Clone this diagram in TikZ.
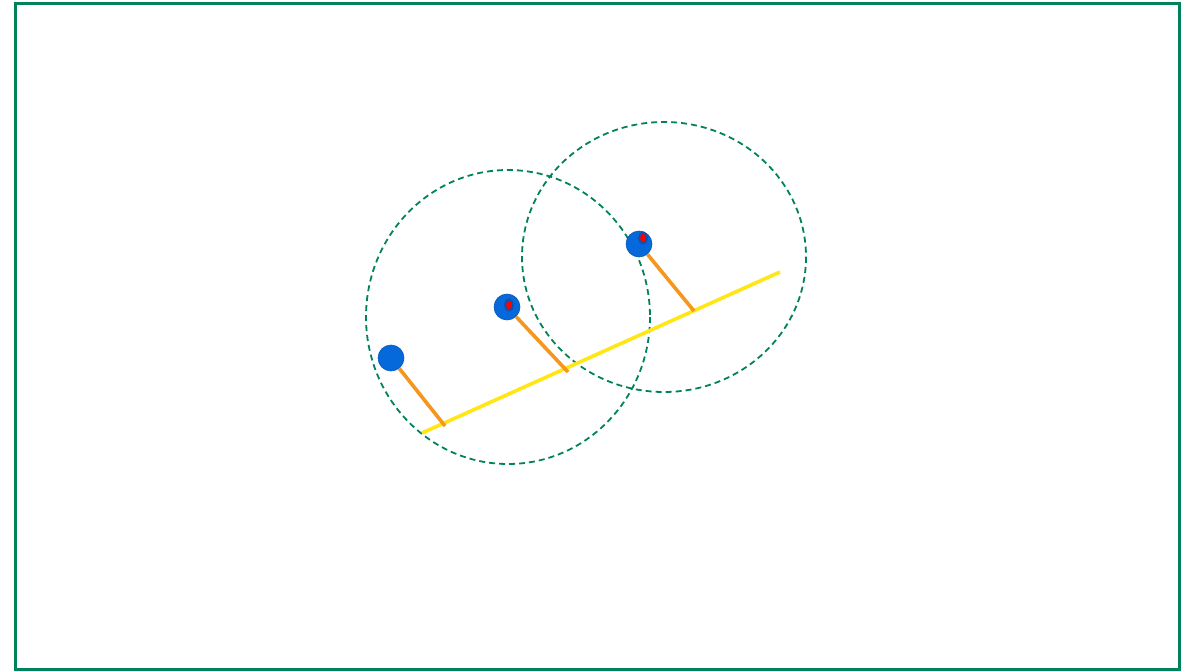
\documentclass[tikz,border=0pt]{standalone}
\usepackage{xcolor}
\usepackage{tikz}
\usetikzlibrary{arrows.meta,positioning,calc,shapes.geometric}
\definecolor{frameg}{RGB}{0,130,90}
\definecolor{ballb}{RGB}{5,105,220}
\definecolor{balld}{RGB}{20,80,170}
\definecolor{stemo}{RGB}{245,150,30}
\definecolor{liney}{RGB}{255,230,20}

\begin{document}
\begin{tikzpicture}[
  x=1pt, y=-1pt,
  ball/.style={circle, fill=ballb, draw=ballb!85!black, line width=0.6pt, minimum size=26pt, inner sep=0pt},
  eye/.style={ellipse, fill=red, draw=balld, line width=2pt, minimum width=8pt, minimum height=11pt, inner sep=0pt},
  stem/.style={stemo, line width=3.6pt},
  reach/.style={frameg, line width=1.8pt, dash pattern=on 6pt off 4pt}
]
\useasboundingbox (0,0) rectangle (1191,671);
\draw[frameg, line width=3pt] (15,3.5) rectangle (1179,669.5);

% reach circles
\draw[reach] (508,317) ellipse [x radius=142, y radius=147];
\draw[reach] (664,257) ellipse [x radius=142, y radius=135];

% line and feet
\coordinate (a) at (422,433);
\coordinate (b) at (780,272);
\coordinate (f1) at (445,426);
\coordinate (f2) at (568,372);
\coordinate (f3) at (694,311);
\draw[liney, line width=3.6pt] (a) -- (b);

\node[ball] (p1) at (391,358) {};
\node[ball] (p2) at (507,307) {};
\node[ball] (p3) at (639,244) {};
\draw[stem] (p1) -- (f1);
\draw[stem] (p2) -- (f2);
\draw[stem] (p3) -- (f3);
\node[eye] (e2) at (509,305) {};
\node[eye] (e3) at (643,238) {};
\end{tikzpicture}
\end{document}
